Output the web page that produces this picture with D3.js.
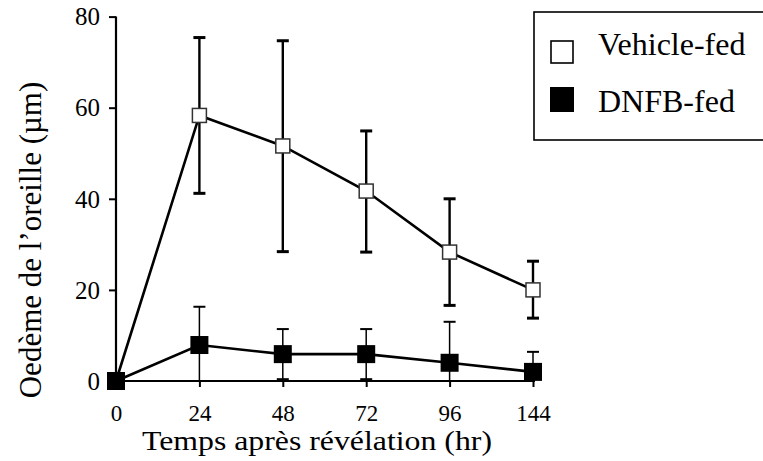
<!DOCTYPE html>
<html>
<head>
<meta charset="utf-8">
<script src="https://cdn.jsdelivr.net/npm/d3@7"></script>
<style>
  body { margin: 0; background: #fff; }
  svg text { font-family: 'Liberation Serif', 'Times New Roman', Times, 'DejaVu Serif', serif !important; }
</style>
</head>
<body>
<svg id="chart" width="763" height="461"></svg>
<script>
const categories = ["0", "24", "48", "72", "96", "144"];
const yTicks = [0, 20, 40, 60, 80];
const vehicleMean = [0, 58.3, 51.6, 41.7, 28.3, 20.0];
const vehicleUpper = [0, 75.4, 74.7, 54.9, 40.0, 26.3];
const vehicleLower = [0, 41.2, 28.4, 28.3, 16.6, 13.8];
const dnfbMean = [0, 7.9, 5.9, 5.9, 4.0, 2.0];
const dnfbUpper = [0, 16.3, 11.4, 11.4, 13.0, 6.4];
const dnfbLower = [0, -0.5, 0.4, 0.4, -5.0, -2.4];
const seriesNames = ["Vehicle-fed", "DNFB-fed"];
const yTitle = "Oedème de l’oreille (µm)";
const xTitle = "Temps après révélation (hr)";

const svg = d3.select("#chart");
const x = d3.scalePoint().domain(categories).range([116, 533]);
const y = d3.scaleLinear().domain([0, 80]).range([381, 16.6]);

const g = svg.append("g");

// Y axis
const yAxis = g.append("g").attr("transform", "translate(116,0)")
  .call(d3.axisLeft(y).tickValues(yTicks).tickSize(7).tickPadding(17));
yAxis.attr("font-family", null).attr("font-size", null);
yAxis.select(".domain").attr("stroke", "#000").attr("stroke-width", 2.2).attr("d", `M0,${y(80)}V${y(0)}`);
yAxis.selectAll(".tick line").attr("stroke", "#000").attr("stroke-width", 2);
yAxis.selectAll(".tick text").style("font-size", "25px").attr("fill", "#000").attr("x", -16).attr("dy", "0.33em");

// X axis
const xAxis = g.append("g").attr("transform", `translate(0,${y(0)})`)
  .call(d3.axisBottom(x).tickSize(6).tickPadding(14));
xAxis.attr("font-family", null).attr("font-size", null);
xAxis.select(".domain").attr("stroke", "#000").attr("stroke-width", 2.2).attr("d", `M116,0H${x("144")+2}`);
xAxis.selectAll(".tick line").attr("stroke", "#000").attr("stroke-width", 2);
xAxis.selectAll(".tick text").style("font-size", "23px").attr("fill", "#000").attr("y", 40).attr("dy", null);

// Titles
g.append("text").attr("x", 142).attr("y", 450).attr("text-anchor", "start")
  .attr("textLength", 350).attr("lengthAdjust", "spacingAndGlyphs")
  .style("font-size", "27px").attr("fill", "#000").text(xTitle);
g.append("text").attr("transform", "translate(41,240) rotate(-90)").attr("text-anchor", "middle")
  .style("font-size", "31px").attr("fill", "#000").text(yTitle);

const capW = 12;
function errorBars(means, up, lo, width, capStroke) {
  categories.forEach((c, i) => {
    if (i === 0) return;
    const cx = x(c);
    const loV = Math.max(lo[i], 0);
    g.append("line").attr("x1", cx).attr("x2", cx).attr("y1", y(up[i])).attr("y2", y(loV))
      .attr("stroke", "#000").attr("stroke-width", width);
    g.append("line").attr("x1", cx - capW/2).attr("x2", cx + capW/2).attr("y1", y(up[i])).attr("y2", y(up[i]))
      .attr("stroke", "#000").attr("stroke-width", capStroke);
    if (lo[i] > 0) {
      g.append("line").attr("x1", cx - capW/2).attr("x2", cx + capW/2).attr("y1", y(lo[i])).attr("y2", y(lo[i]))
        .attr("stroke", "#000").attr("stroke-width", capStroke);
    }
  });
}
errorBars(vehicleMean, vehicleUpper, vehicleLower, 2.4, 3);
errorBars(dnfbMean, dnfbUpper, dnfbLower, 1.5, 2);

const line = d3.line().x((d, i) => x(categories[i])).y(d => y(d));
g.append("path").datum(vehicleMean).attr("d", line).attr("fill", "none").attr("stroke", "#000").attr("stroke-width", 2.6);
g.append("path").datum(dnfbMean).attr("d", line).attr("fill", "none").attr("stroke", "#000").attr("stroke-width", 2.6);

const ms = 14;
g.selectAll(".vm").data(vehicleMean).enter().append("rect")
  .attr("x", (d, i) => x(categories[i]) - ms/2).attr("y", d => y(d) - ms/2)
  .attr("width", ms).attr("height", ms).attr("fill", "#fff").attr("stroke", "#333").attr("stroke-width", 1.5);
g.selectAll(".dm").data(dnfbMean).enter().append("rect")
  .attr("x", (d, i) => x(categories[i]) - ms/2 - 2).attr("y", d => y(d) - ms/2 - 2)
  .attr("width", ms + 4).attr("height", ms + 4).attr("fill", "#000");

// Legend
const lg = svg.append("g");
lg.append("rect").attr("x", 534).attr("y", 12).attr("width", 240).attr("height", 128)
  .attr("fill", "#fff").attr("stroke", "#000").attr("stroke-width", 1.6);
lg.append("rect").attr("x", 551).attr("y", 41).attr("width", 22).attr("height", 22)
  .attr("fill", "#fff").attr("stroke", "#000").attr("stroke-width", 1.6);
lg.append("rect").attr("x", 550).attr("y", 87).attr("width", 24).attr("height", 25).attr("fill", "#000");
lg.append("text").attr("x", 598).attr("y", 55).style("font-size", "32px").attr("fill", "#000").text(seriesNames[0]);
lg.append("text").attr("x", 598).attr("y", 112).style("font-size", "32px").attr("fill", "#000").text(seriesNames[1]);
</script>
</body>
</html>
